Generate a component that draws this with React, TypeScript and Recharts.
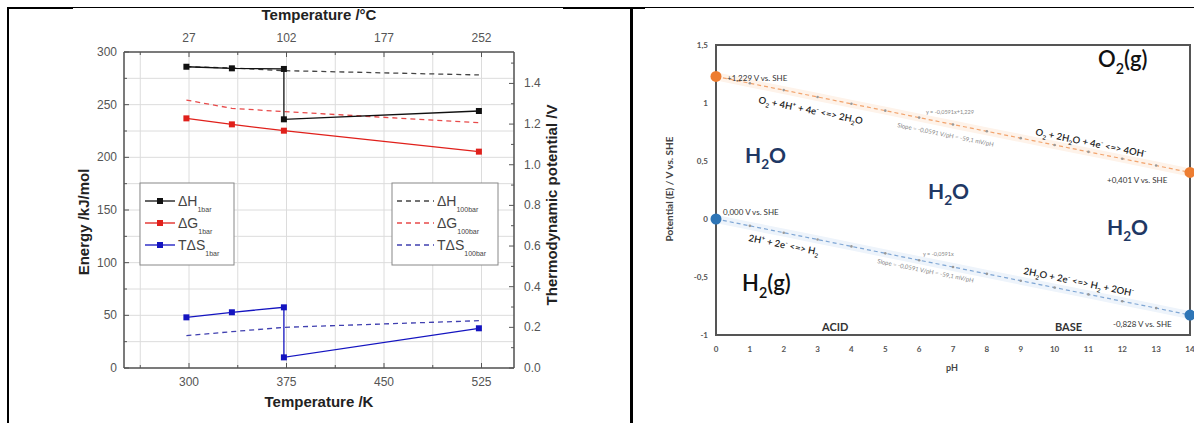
import {
  CartesianGrid,
  ComposedChart,
  Line,
  LineChart,
  ReferenceArea,
  Scatter,
  XAxis,
  YAxis,
} from "recharts";

// ---- left chart: reaction energies vs temperature ----
const kelvin1bar = [298, 333, 373, 373, 523];
const kelvinG1bar = [298, 333, 373, 523];
const kelvin100bar = [298, 333, 373, 523];
const dH1bar = [286.0, 284.5, 283.9, 236.1, 244.0];
const dG1bar = [237.0, 231.3, 225.3, 205.4];
const tdS1bar = [48.1, 52.9, 57.6, 10.1, 37.7];
const dH100bar = [286.0, 284.8, 282.3, 278.2];
const dG100bar = [254.4, 246.5, 243.4, 232.9];
const tdS100bar = [30.7, 34.5, 38.6, 44.9];

const kTicks = [262.5, 300, 337.5, 375, 412.5, 450, 487.5, 525];
const kMajor = [300, 375, 450, 525];
const kLabels = ["300", "375", "450", "525"];
const cLabels = ["27", "102", "177", "252"];
const energyTicks = [0, 25, 50, 75, 100, 125, 150, 175, 200, 225, 250, 275, 300];
const energyMajor = [0, 50, 100, 150, 200, 250, 300];
const energyLabels = ["0", "50", "100", "150", "200", "250", "300"];
const voltTicks = [0, 0.1, 0.2, 0.3, 0.4, 0.5, 0.6, 0.7, 0.8, 0.9, 1, 1.1, 1.2, 1.3, 1.4, 1.5];
const voltMajor = [0, 0.2, 0.4, 0.6, 0.8, 1, 1.2, 1.4];
const voltLabels = ["0.0", "0.2", "0.4", "0.6", "0.8", "1.0", "1.2", "1.4"];
const faraday2 = 2 * 96.485; // kJ/mol per V for a 2-electron reaction
const voltMax = 300 / faraday2;

// ---- right chart: Pourbaix diagram of water ----
const pH = [0, 1, 2, 3, 4, 5, 6, 7, 8, 9, 10, 11, 12, 13, 14];
const eO2 = [1.229, 1.17, 1.111, 1.052, 0.993, 0.934, 0.874, 0.815, 0.756, 0.697, 0.638, 0.579, 0.52, 0.461, 0.401];
const eH2 = [0, -0.059, -0.118, -0.177, -0.236, -0.296, -0.355, -0.414, -0.473, -0.532, -0.591, -0.65, -0.709, -0.768, -0.828];
const endPH = [0, 14];
const endO2 = [1.229, 0.401];
const endH2 = [0, -0.828];
const phLabels = ["0", "1", "2", "3", "4", "5", "6", "7", "8", "9", "10", "11", "12", "13", "14"];
const eTicks = [-1, -0.5, 0, 0.5, 1, 1.5];
const eLabels = ["-1", "-0,5", "0", "0,5", "1", "1,5"];

const rows = (xs: number[], ys: number[]) => xs.map((t, i) => ({ t, v: ys[i] }));
// same energies expressed in volts, drawn against the right axis
const rowsV = (xs: number[], ys: number[]) => xs.map((t, i) => ({ t, v: ys[i] / faraday2 }));
const phRows = (xs: number[], ys: number[]) => xs.map((x, i) => ({ pH: x, E: ys[i] }));

const SANS = "'Liberation Sans', Arial, sans-serif";
const CAL = "Lato, 'Open Sans', sans-serif";

function AxisTick(props: any) {
  const { x, y, payload, side, majors, labels } = props;
  const i = majors.indexOf(payload.value);
  const len = i >= 0 ? 5 : 3;
  const s = { stroke: "#555", strokeWidth: 1 };
  const t = { fontSize: 12, fill: "#555", fontFamily: SANS };
  if (side === "bottom")
    return (
      <g>
        <line x1={x} y1={y} x2={x} y2={y - len} {...s} />
        {i >= 0 && <text x={x} y={y + 18} textAnchor="middle" {...t}>{labels[i]}</text>}
      </g>
    );
  if (side === "top")
    return (
      <g>
        <line x1={x} y1={y} x2={x} y2={y + len} {...s} />
        {i >= 0 && <text x={x} y={y - 10} textAnchor="middle" {...t}>{labels[i]}</text>}
      </g>
    );
  if (side === "left")
    return (
      <g>
        <line x1={x} y1={y} x2={x + len} y2={y} {...s} />
        {i >= 0 && <text x={x - 7} y={y + 4} textAnchor="end" {...t}>{labels[i]}</text>}
      </g>
    );
  return (
    <g>
      <line x1={x} y1={y} x2={x - len} y2={y} {...s} />
      {i >= 0 && <text x={x + 10} y={y + 4} textAnchor="start" {...t}>{labels[i]}</text>}
    </g>
  );
}

function PhTick(props: any) {
  const { x, y, payload, side, values, labels } = props;
  const i = values.indexOf(payload.value);
  const t = { fontSize: 8, fontWeight: 700, fill: "#555", fontFamily: CAL };
  if (side === "bottom")
    return <text x={x} y={y + 17} textAnchor="middle" {...t}>{labels[i]}</text>;
  return <text x={x - 8} y={y + 3} textAnchor="end" {...t}>{labels[i]}</text>;
}

const square = (color: string) => (p: any) =>
  <rect key={p.index} x={p.cx - 3} y={p.cy - 3} width={6} height={6} fill={color} />;

// text with sub/superscripts: "_x" is subscript, "^x" superscript
function Rich({ x, y, size, parts, weight = 400, fill = "#222", angle = 0, anchor = "start", family = CAL, subScale = 0.65, subDrop = 0.3 }: any) {
  let cur = 0;
  const spans = parts.map((p: string, i: number) => {
    let target = 0;
    let fs = size;
    let txt = p;
    if (p[0] === "_") { target = size * subDrop; fs = size * subScale; txt = p.slice(1); }
    else if (p[0] === "^") { target = -size * 0.4; fs = size * subScale; txt = p.slice(1); }
    const dy = target - cur;
    cur = target;
    return <tspan key={i} dy={dy} fontSize={fs}>{txt}</tspan>;
  });
  return (
    <text
      x={x}
      y={y}
      fontSize={size}
      fontWeight={weight}
      fill={fill}
      textAnchor={anchor}
      fontFamily={family}
      style={{ whiteSpace: "pre" }}
      transform={angle ? `rotate(${angle} ${x} ${y})` : undefined}
    >
      {spans}
    </text>
  );
}

const legend1 = [
  { name: "ΔH", color: "#111" },
  { name: "ΔG", color: "#e0201b" },
  { name: "TΔS", color: "#1414c0" },
];
const legend100 = [
  { name: "ΔH", color: "#444" },
  { name: "ΔG", color: "#e84a4a" },
  { name: "TΔS", color: "#4040b0" },
];

function Overlay() {
  const slope = 11.5;
  return (
    <svg width={1194} height={423} style={{ position: "absolute", left: 0, top: 0, pointerEvents: "none" }}>
      {/* left chart titles */}
      <g fontFamily={SANS} fontWeight={700} fontSize={15} fill="#222">
        <text x={319} y={20} textAnchor="middle">Temperature /°C</text>
        <text x={319} y={407} textAnchor="middle">Temperature /K</text>
        <text x={89} y={222} textAnchor="middle" transform="rotate(-90 89 222)">Energy /kJ/mol</text>
        <text x={557} y={205} textAnchor="middle" transform="rotate(-90 557 205)">Thermodynamic potential /V</text>
      </g>
      {/* legends */}
      <rect x={140} y={183} width={94} height={82} fill="#fff" stroke="#888" />
      {legend1.map((e, i) => {
        const cy = 201 + i * 22;
        return (
          <g key={e.name}>
            <line x1={145} y1={cy} x2={175} y2={cy} stroke={e.color} strokeWidth={1.3} />
            <rect x={157} y={cy - 3} width={6} height={6} fill={e.color} />
            <Rich x={178} y={cy + 5} size={14} parts={[e.name, "_1bar"]} fill="#444" family={SANS} subScale={0.5} subDrop={0.4} />
          </g>
        );
      })}
      <rect x={392} y={183} width={106} height={82} fill="#fff" stroke="#888" />
      {legend100.map((e, i) => {
        const cy = 201 + i * 22;
        return (
          <g key={e.name}>
            <line x1={397} y1={cy} x2={434} y2={cy} stroke={e.color} strokeWidth={1.3} strokeDasharray="5 4" />
            <Rich x={437} y={cy + 5} size={14} parts={[e.name, "_100bar"]} fill="#444" family={SANS} subScale={0.5} subDrop={0.4} />
          </g>
        );
      })}

      {/* right chart labels */}
      <text x={673} y={189} textAnchor="middle" fontFamily={CAL} fontWeight={700} fontSize={10} fill="#444" transform="rotate(-90 673 189)">
        Potential (E) / V vs. SHE
      </text>
      <text x={952} y={371} textAnchor="middle" fontFamily={CAL} fontWeight={700} fontSize={9} fill="#444">pH</text>

      <Rich x={727} y={81} size={8} parts={["+1,229 V vs. SHE"]} fill="#333" />
      <Rich x={758} y={103} size={9.5} weight={600} angle={slope} parts={["O", "_2", " + 4H", "^+", " + 4e", "^-", " <=> 2H", "_2", "O"]} />
      <Rich x={926} y={114} size={5.5} parts={["y = -0,0591x+1,229"]} fill="#888" />
      <Rich x={897} y={127} size={6} angle={slope} parts={["Slope = -0,0591 V/pH = -59,1 mV/pH"]} fill="#888" />
      <Rich x={1035} y={135} size={9.5} weight={600} angle={slope} parts={["O", "_2", " + 2H", "_2", "O + 4e", "^-", " <=> 4OH", "^-"]} />
      <Rich x={1107} y={183} size={8} parts={["+0,401 V vs. SHE"]} fill="#333" />
      <Rich x={1098} y={67} size={22} weight={600} parts={["O", "_2", "(g)"]} fill="#111" />
      <Rich x={745} y={163} size={21} weight={700} parts={["H", "_2", "O"]} fill="#1f3864" />
      <Rich x={928} y={199} size={21} weight={700} parts={["H", "_2", "O"]} fill="#1f3864" />
      <Rich x={1107} y={235} size={21} weight={700} parts={["H", "_2", "O"]} fill="#1f3864" />
      <Rich x={723} y={215} size={8} parts={["0,000 V vs. SHE"]} fill="#333" />
      <Rich x={748} y={241} size={9.5} weight={600} angle={slope} parts={["2H", "^+", " + 2e", "^-", " <=> H", "_2"]} />
      <Rich x={923} y={256} size={5.5} parts={["y = -0,0591x"]} fill="#888" />
      <Rich x={877} y={263} size={6} angle={slope} parts={["Slope = -0,0591 V/pH = -59,1 mV/pH"]} fill="#888" />
      <Rich x={1023} y={274} size={9.5} weight={600} angle={slope} parts={["2H", "_2", "O + 2e", "^-", " <=> H", "_2", " + 2OH", "^-"]} />
      <Rich x={742} y={291} size={22} weight={600} parts={["H", "_2", "(g)"]} fill="#111" />
      <Rich x={822} y={331} size={11} weight={700} parts={["ACID"]} fill="#333" />
      <Rich x={1055} y={331} size={11} weight={700} parts={["BASE"]} fill="#333" />
      <Rich x={1113} y={327} size={8} parts={["-0,828 V vs. SHE"]} fill="#333" />
    </svg>
  );
}

function EnergyChart() {
  const axisLine = { stroke: "#555", strokeWidth: 1.5 };
  return (
    <LineChart width={600} height={423} margin={{ top: 0, right: 0, bottom: 0, left: 0 }}>
      <CartesianGrid xAxisId="bottom" yAxisId="left" stroke="#dcdcdc" strokeWidth={1} />
      <XAxis
        xAxisId="bottom"
        dataKey="t"
        type="number"
        domain={[250, 550]}
        ticks={kTicks}
        interval={0}
        height={55}
        tickSize={0}
        tickMargin={0}
        tickLine={false}
        axisLine={axisLine}
        tick={(p: any) => <AxisTick {...p} side="bottom" majors={kMajor} labels={kLabels} />}
      />
      <XAxis
        xAxisId="top"
        orientation="top"
        dataKey="t"
        type="number"
        domain={[250, 550]}
        ticks={kTicks}
        interval={0}
        height={52}
        tickSize={0}
        tickMargin={0}
        tickLine={false}
        axisLine={axisLine}
        tick={(p: any) => <AxisTick {...p} side="top" majors={kMajor} labels={cLabels} />}
      />
      <YAxis
        yAxisId="left"
        type="number"
        domain={[0, 300]}
        ticks={energyTicks}
        interval={0}
        width={124}
        tickSize={0}
        tickMargin={0}
        tickLine={false}
        axisLine={axisLine}
        tick={(p: any) => <AxisTick {...p} side="left" majors={energyMajor} labels={energyLabels} />}
      />
      <YAxis
        yAxisId="right"
        orientation="right"
        type="number"
        domain={[0, voltMax]}
        allowDataOverflow
        ticks={voltTicks}
        interval={0}
        width={86}
        tickSize={0}
        tickMargin={0}
        tickLine={false}
        axisLine={axisLine}
        tick={(p: any) => <AxisTick {...p} side="right" majors={voltMajor} labels={voltLabels} />}
      />
      <Line xAxisId="top" yAxisId="right" data={rowsV(kelvin100bar, dH100bar)} dataKey="v" stroke="#444" strokeWidth={1.3} strokeDasharray="5 4" dot={false} isAnimationActive={false} />
      <Line xAxisId="top" yAxisId="right" data={rowsV(kelvin100bar, dG100bar)} dataKey="v" stroke="#e84a4a" strokeWidth={1.3} strokeDasharray="5 4" dot={false} isAnimationActive={false} />
      <Line xAxisId="top" yAxisId="right" data={rowsV(kelvin100bar, tdS100bar)} dataKey="v" stroke="#4040b0" strokeWidth={1.3} strokeDasharray="5 4" dot={false} isAnimationActive={false} />
      <Line xAxisId="bottom" yAxisId="left" data={rows(kelvin1bar, dH1bar)} dataKey="v" stroke="#111" strokeWidth={1.3} dot={square("#111")} isAnimationActive={false} />
      <Line xAxisId="bottom" yAxisId="left" data={rows(kelvinG1bar, dG1bar)} dataKey="v" stroke="#e0201b" strokeWidth={1.3} dot={square("#e0201b")} isAnimationActive={false} />
      <Line xAxisId="bottom" yAxisId="left" data={rows(kelvin1bar, tdS1bar)} dataKey="v" stroke="#1414c0" strokeWidth={1.3} dot={square("#1414c0")} isAnimationActive={false} />
    </LineChart>
  );
}

function PourbaixChart() {
  const o2 = phRows(pH, eO2);
  const h2 = phRows(pH, eH2);
  return (
    <ComposedChart width={560} height={423} margin={{ top: 45, right: 10, bottom: 0, left: 0 }}>
      <XAxis
        dataKey="pH"
        type="number"
        domain={[0, 14]}
        ticks={pH}
        interval={0}
        height={88}
        tickSize={0}
        tickMargin={0}
        tickLine={false}
        axisLine={false}
        tick={(p: any) => <PhTick {...p} side="bottom" values={pH} labels={phLabels} />}
      />
      <YAxis
        dataKey="E"
        type="number"
        domain={[-1, 1.5]}
        ticks={eTicks}
        interval={0}
        width={76}
        tickSize={0}
        tickMargin={0}
        tickLine={false}
        axisLine={false}
        tick={(p: any) => <PhTick {...p} side="left" values={eTicks} labels={eLabels} />}
      />
      <ReferenceArea x1={0} x2={14} y1={-1} y2={1.5} fill="none" stroke="#555" strokeWidth={2} ifOverflow="visible" />
      <Line data={o2} dataKey="E" stroke="#fef3ea" strokeWidth={8} dot={false} isAnimationActive={false} />
      <Line data={h2} dataKey="E" stroke="#eef4fb" strokeWidth={8} dot={false} isAnimationActive={false} />
      <Line data={o2} dataKey="E" stroke="#f2a46e" strokeWidth={1.2} strokeDasharray="4 3" dot={{ r: 1.3, fill: "#999", stroke: "none" }} isAnimationActive={false} />
      <Line data={h2} dataKey="E" stroke="#7fa6d4" strokeWidth={1.2} strokeDasharray="4 3" dot={{ r: 1.3, fill: "#999", stroke: "none" }} isAnimationActive={false} />
      <Scatter data={phRows(endPH, endO2)} fill="#ed7d31" isAnimationActive={false}
        shape={(p: any) => <circle cx={p.cx} cy={p.cy} r={5.5} fill="#ed7d31" />} />
      <Scatter data={phRows(endPH, endH2)} fill="#2e75b6" isAnimationActive={false}
        shape={(p: any) => <circle cx={p.cx} cy={p.cy} r={5.5} fill="#2e75b6" />} />
    </ComposedChart>
  );
}

export default function App() {
  return (
    <div style={{ position: "absolute", left: 0, top: 0, width: 1194, height: 423, overflow: "hidden", background: "#fff" }}>
      <div style={{ position: "absolute", left: 0, top: 0 }}>
        <EnergyChart />
      </div>
      <div style={{ position: "absolute", left: 640, top: 0 }}>
        <PourbaixChart />
      </div>
      <Overlay />
      {/* table frame */}
      <div style={{ position: "absolute", left: 7, top: 7, width: 66, height: 2, background: "#000" }} />
      <div style={{ position: "absolute", left: 73, top: 7, width: 490, height: 1, background: "#000" }} />
      <div style={{ position: "absolute", left: 563, top: 7, width: 82, height: 2, background: "#000" }} />
      <div style={{ position: "absolute", left: 645, top: 7, width: 549, height: 1, background: "#000" }} />
      <div style={{ position: "absolute", left: 7, top: 7, width: 2, height: 416, background: "#000" }} />
      <div style={{ position: "absolute", left: 630, top: 7, width: 3, height: 416, background: "#000" }} />
    </div>
  );
}
